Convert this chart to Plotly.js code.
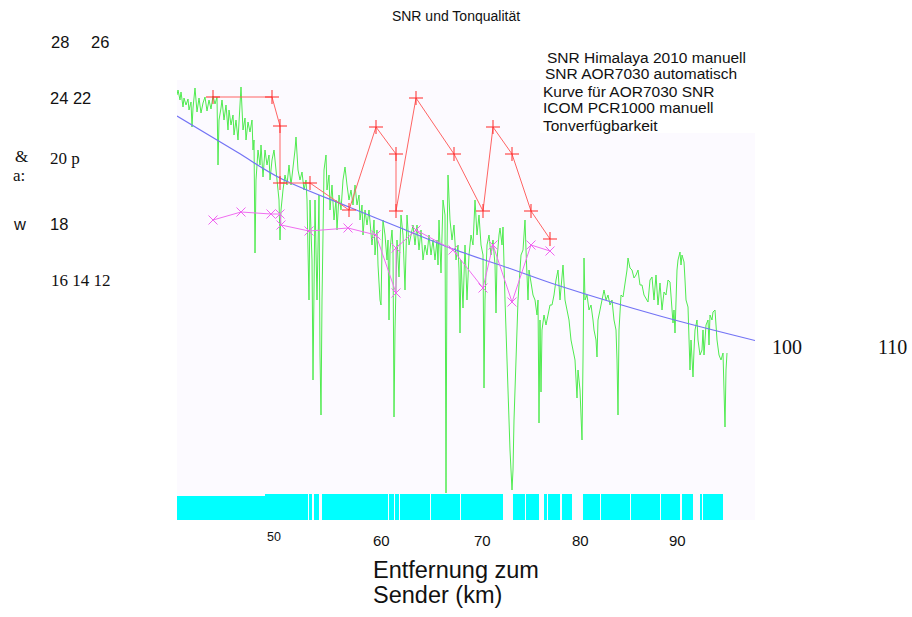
<!DOCTYPE html>
<html><head><meta charset="utf-8">
<script src="https://cdn.plot.ly/plotly-3.0.1.min.js"></script>
<style>html,body{margin:0;padding:0;background:#fff}#chart{width:912px;height:617px}</style>
</head><body><div id="chart"></div>
<script>
// ---------------- DATA ----------------
const chartTitle = 'SNR und Tonqualität';
const xTitleLines = ['Entfernung zum', 'Sender (km)'];
const seriesNames = ['SNR Himalaya 2010 manuell','SNR AOR7030 automatisch','Kurve für AOR7030 SNR','ICOM PCR1000 manuell','Tonverfügbarkeit'];
const xTickText = ['50','60','70','80','90'];
const xTickKm = [50.1, 60.8, 70.9, 80.7, 90.4];
const stray = ['28','26','24 22','&','20 p','a:','w','18','16 14 12','100','110'];

// SNR AOR7030 automatisch (green)
const aorKm = [
40.4,40.5,40.7,40.8,41.0,41.1,41.3,41.5,41.6,41.8,
41.9,42.0,42.2,42.4,42.6,42.8,43.0,43.2,43.4,43.6,
43.8,44.0,44.2,44.4,44.5,44.6,44.8,44.9,45.1,45.3,
45.5,45.6,45.8,46.0,46.1,46.3,46.5,46.7,46.8,47.0,
47.2,47.3,47.5,47.7,47.9,48.0,48.1,48.2,48.3,48.5,
48.7,48.8,49.0,49.2,49.4,49.6,49.7,49.9,50.1,50.3,
50.5,50.6,50.7,50.8,51.0,51.2,51.4,51.6,51.8,52.0,
52.2,52.3,52.5,52.7,52.9,53.1,53.3,53.4,53.5,53.6,
53.7,53.9,54.0,54.1,54.2,54.4,54.5,54.6,54.7,54.8,
54.9,55.0,55.1,55.3,55.4,55.6,55.7,55.9,56.1,56.3,
56.4,56.6,56.8,57.0,57.2,57.4,57.6,57.8,58.0,58.2,
58.4,58.6,58.7,58.9,59.0,59.2,59.4,59.6,59.8,59.9,
60.1,60.2,60.4,60.5,60.7,60.8,60.9,61.0,61.2,61.4,
61.5,61.6,61.7,61.9,62.0,62.1,62.2,62.3,62.4,62.6,
62.8,63.0,63.2,63.4,63.6,63.8,64.0,64.2,64.4,64.6,
64.8,65.0,65.2,65.4,65.6,65.8,66.0,66.2,66.4,66.5,
66.6,66.8,67.0,67.2,67.3,67.4,67.5,67.7,67.9,68.1,
68.3,68.5,68.6,68.7,68.8,69.0,69.2,69.4,69.6,69.8,
70.0,70.2,70.4,70.6,70.8,71.0,71.1,71.2,71.4,71.6,
71.8,72.0,72.2,72.3,72.4,72.6,72.7,72.9,73.0,73.2,
73.4,73.5,73.7,73.9,74.0,74.1,74.3,74.5,74.7,74.8,
75.0,75.2,75.3,75.5,75.6,75.8,76.0,76.2,76.4,76.5,
76.6,76.7,76.8,76.9,77.1,77.3,77.5,77.7,77.9,78.1,
78.3,78.5,78.7,78.9,79.0,79.2,79.4,79.6,79.8,80.0,
80.2,80.4,80.5,80.7,80.9,81.0,81.1,81.2,81.4,81.6,
81.8,82.0,82.1,82.3,82.4,82.5,82.7,82.9,83.1,83.3,
83.5,83.7,83.9,84.1,84.3,84.4,84.5,84.6,84.8,85.0,
85.2,85.4,85.5,85.7,85.9,86.1,86.3,86.5,86.7,86.9,
87.1,87.3,87.5,87.7,87.9,88.1,88.3,88.5,88.7,88.9,
89.1,89.3,89.5,89.7,89.9,90.0,90.1,90.2,90.4,90.5,
90.7,90.8,90.9,91.1,91.2,91.3,91.5,91.6,91.7,91.8,
91.9,92.0,92.1,92.2,92.4,92.5,92.7,92.9,93.0,93.1,
93.3,93.5,93.6,93.7,93.9,94.0,94.2,94.3,94.4,94.6,
94.8,95.0,95.1,95.2,95.3,95.4];
const aorSnr = [
42.5,43.0,42.0,42.8,41.3,42.2,41.5,42.1,41.0,41.8,
39.3,41.2,43.2,40.8,42.2,40.7,41.7,42.3,40.9,42.0,
41.1,42.4,41.6,42.3,35.5,40.0,41.2,42.0,40.0,41.5,
39.0,41.0,39.5,40.5,38.5,40.0,38.0,42.0,43.3,39.0,
40.2,38.0,39.8,38.8,40.0,37.0,38.0,26.7,34.0,37.0,
35.5,37.5,34.3,37.0,35.5,36.5,34.0,36.0,37.0,35.0,
33.0,32.0,28.0,31.0,33.0,34.5,33.5,35.5,33.5,35.0,
37.0,38.3,35.0,34.0,34.8,33.0,34.0,32.0,28.0,22.0,
32.0,26.0,14.0,27.0,32.0,22.0,28.0,32.5,16.5,10.5,
22.0,32.0,35.0,36.5,33.0,34.5,31.0,33.5,30.0,32.0,
29.0,32.5,31.0,34.0,35.3,33.5,32.0,33.0,31.5,33.5,
31.5,32.5,30.0,31.5,28.5,31.0,29.5,31.0,29.0,27.5,
30.0,26.5,29.0,25.5,22.0,21.5,27.0,30.0,28.5,26.0,
28.0,20.0,27.0,29.0,27.0,10.3,19.0,23.0,28.0,24.3,
30.5,28.5,23.0,30.5,27.5,28.5,29.5,27.5,29.5,27.0,
29.0,26.0,27.5,26.5,28.5,26.5,28.0,26.0,28.0,25.5,
30.0,24.7,32.0,30.5,2.7,27.0,34.5,30.0,28.0,29.5,
26.0,27.5,25.0,18.7,26.0,21.2,27.5,22.0,26.5,28.5,
27.5,32.0,28.5,30.5,27.5,26.5,13.2,22.0,27.5,28.5,
26.5,28.0,25.5,20.7,26.0,28.5,29.2,27.5,29.3,22.0,
16.0,12.0,7.0,3.0,5.0,10.0,16.0,22.0,25.0,26.5,
27.0,30.0,27.0,22.0,25.0,23.5,22.5,22.0,20.5,22.0,
9.7,20.0,12.8,19.0,20.5,19.5,20.5,21.5,21.5,22.5,
24.0,25.0,22.0,25.0,25.5,22.0,21.0,20.0,18.0,17.0,
16.0,12.2,15.0,13.0,8.0,16.0,26.2,22.0,22.5,21.0,
21.5,20.0,19.0,18.0,16.3,20.0,21.0,22.0,23.0,22.0,
22.5,21.5,22.0,20.0,19.0,16.0,10.5,19.0,22.5,22.3,
23.5,25.0,26.2,25.2,25.0,24.2,24.5,25.0,23.5,23.5,
22.5,22.2,21.8,24.0,24.3,22.0,24.5,21.5,23.7,21.0,
22.8,22.5,24.0,23.8,20.5,19.7,21.0,18.7,25.0,26.0,
26.8,25.5,26.5,25.8,24.0,22.0,21.3,18.0,15.0,18.0,
16.0,14.3,17.0,19.0,20.0,18.0,16.5,17.0,19.0,16.5,
19.5,20.0,17.5,20.5,20.0,20.8,21.0,19.0,18.0,16.5,
16.0,16.7,14.0,9.3,15.0,16.7];

// SNR Himalaya 2010 manuell (red)
const himKm  = [44.0,49.9,50.7,50.7,53.7,57.6,60.3,62.3,62.3,64.3,68.1,71.0,72.0,73.9,75.8,77.7];
const himSnr = [42.3,42.3,39.4,33.7,33.7,31.0,39.3,36.6,30.9,42.2,36.6,30.9,39.3,36.6,30.9,28.1];

// ICOM PCR1000 manuell (magenta)
const icomKm  = [44.0,46.8,49.8,50.7,50.8,53.6,57.5,60.3,62.3,62.3,64.3,68.0,71.0,72.0,73.9,75.8,77.7];
const icomSnr = [30.0,30.8,30.6,30.6,29.5,28.9,29.2,28.5,22.7,27.2,29.0,27.0,23.2,27.5,21.8,27.5,26.9];

// Kurve für AOR7030 SNR (blue)
const fitKm  = [40.4,46.4,50.7,57.6,62.4,68.0,73.7,78.7,88.7,98.2];
const fitSnr = [40.4,36.8,34.2,31.3,29.35,27.1,25.15,23.4,20.4,17.95];

// Tonverfügbarkeit (cyan): intervals where audio was available
const tonStart = [40.3,49.2,53.6,54.1,54.4,54.9,61.57,62.17,62.67,65.77,67.4,68.77,69.9,71.4,72.4,74.03,75.27,77.1,77.47,78.9,80.97,81.9,82.77,84.4,85.77,87.4,88.77,89.4,90.87,92.7,92.97];
const tonEnd   = [49.2,53.45,53.9,54.35,54.6,61.5,62.1,62.6,65.7,67.35,68.7,69.85,71.35,72.35,72.97,75.2,76.6,77.4,78.7,79.87,81.85,82.7,84.35,85.7,87.35,88.7,89.35,90.7,92.0,92.9,95.03];
const tonLevel = [2.4,2.57,2.57,2.57,2.57,2.57,2.57,2.57,2.57,2.57,2.57,2.57,2.57,2.57,2.57,2.57,2.57,2.57,2.57,2.57,2.57,2.57,2.57,2.57,2.57,2.57,2.57,2.57,2.57,2.57,2.57];

// ---------------- LAYOUT HELPERS ----------------
const L=177, R=755, T=80, B=520;
const pxX = x => (x-L)/(R-L);
const pxY = y => (B-y)/(B-T);
const SANS = 'Liberation Sans, Arial, sans-serif';
const SERIF = 'Liberation Serif, Times New Roman, serif';

const traces = [
  {type:'bar', name:seriesNames[4],
   x: tonStart.map((s,i)=>(s+tonEnd[i])/2),
   width: tonStart.map((s,i)=>tonEnd[i]-s),
   y: tonLevel, marker:{color:'#00ffff', line:{width:0}}, hoverinfo:'skip'},
  {type:'scatter', mode:'lines', name:seriesNames[1], x:aorKm, y:aorSnr,
   line:{color:'rgb(80,235,80)', width:1}},
  {type:'scatter', mode:'lines', name:seriesNames[2], x:fitKm, y:fitSnr,
   line:{color:'rgb(115,115,245)', width:1.2, shape:'spline'}},
  {type:'scatter', mode:'lines+markers', name:seriesNames[3], x:icomKm, y:icomSnr,
   line:{color:'rgb(240,110,240)', width:1},
   marker:{symbol:'x-thin', size:9, line:{color:'rgb(240,100,240)', width:1}}},
  {type:'scatter', mode:'lines+markers', name:seriesNames[0], x:himKm, y:himSnr,
   line:{color:'rgb(255,100,100)', width:1},
   marker:{symbol:'cross-thin', size:10, line:{color:'rgb(255,40,40)', width:1}}}
];

const ann = [];
function txt(text, x, y, fam, size, xanchor){
  ann.push({text:text, xref:'paper', yref:'paper', x:pxX(x), y:pxY(y), showarrow:false,
    xanchor:xanchor||'center', yanchor:'middle', font:{family:fam, size:size, color:'#111'}});
}
// stray labels
txt(stray[0], 59.5, 42, SANS, 16.5);
txt(stray[1], 100, 42, SANS, 16.5);
txt(stray[2], 70, 97.5, SANS, 16.5);
txt(stray[3], 21.7, 156, SERIF, 17);
txt(stray[4], 64.5, 158, SERIF, 17);
txt(stray[5], 19, 175, SERIF, 17);
txt(stray[6], 19.3, 224, SANS, 16.5);
txt(stray[7], 59, 224, SANS, 16.5);
txt(stray[8], 81, 280, SERIF, 17);
txt(stray[9], 787, 347, SERIF, 20);
txt(stray[10], 892, 347, SERIF, 20);
// x tick labels
xTickText.forEach((t,i)=>{
  ann.push({text:t, xref:'x', yref:'paper', x:xTickKm[i], y:pxY(i===0?537:540), showarrow:false,
    xanchor:'center', yanchor:'middle', font:{family:SANS, size:i===0?12.5:15, color:'#111'}});
});
// x title
txt(xTitleLines[0], 371, 570, SANS, 23.5, 'left');
txt(xTitleLines[1], 371, 595, SANS, 23.5, 'left');
// legend text
const legX = [545,543,541,541,541], legY = [57,74,91,107,125];
seriesNames.forEach((n,i)=> txt(n, legX[i], legY[i], SANS, 15.5, 'left'));

const layout = {
  width:912, height:617,
  margin:{l:L, r:912-R, t:T, b:617-B, pad:0},
  paper_bgcolor:'#ffffff', plot_bgcolor:'#fcfaff',
  showlegend:false,
  title:{text:chartTitle, x:456/912, xref:'container', xanchor:'center', y:1-16/617, yanchor:'middle',
         font:{family:SANS, size:14, color:'#111'}},
  xaxis:{range:[40.4,98.2], showgrid:false, zeroline:false, showticklabels:false, showline:false, ticks:'', fixedrange:true},
  yaxis:{range:[0,44], showgrid:false, zeroline:false, showticklabels:false, showline:false, ticks:'', fixedrange:true},
  shapes:[{type:'rect', xref:'paper', yref:'paper', x0:pxX(540), x1:1, y0:pxY(133), y1:1.0,
           fillcolor:'#ffffff', line:{width:0}, layer:'above'}],
  annotations:ann,
  bargap:0
};
Plotly.newPlot('chart', traces, layout, {displayModeBar:false, staticPlot:true});
</script></body></html>
